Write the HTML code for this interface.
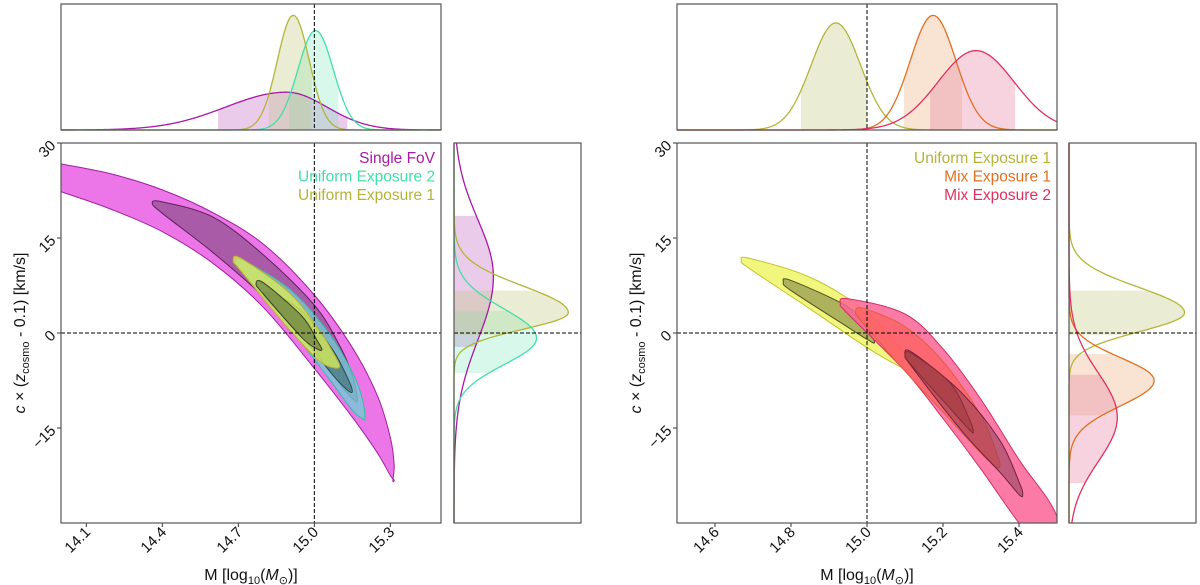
<!DOCTYPE html>
<html><head><meta charset="utf-8"><style>
html,body{margin:0;padding:0;background:#fff;}
svg{display:block;font-family:"Liberation Sans","DejaVu Sans",sans-serif;}
</style></head><body>
<svg id="fig" width="1200" height="585" viewBox="0 0 1200 585" xmlns="http://www.w3.org/2000/svg">
<defs>
<clipPath id="clipL"><rect x="61" y="143" width="380" height="380"/></clipPath>
<clipPath id="clipR"><rect x="677" y="143" width="380" height="380"/></clipPath>
</defs>
<g id="root"></g>
</svg>
<script>
// ---- data ----
const yTicks = [30, 15, 0, -15];
const leftXTicks = [14.1, 14.4, 14.7, 15.0, 15.3];
const rightXTicks = [14.6, 14.8, 15.0, 15.2, 15.4];
const leftLegend = ["Single FoV", "Uniform Exposure 2", "Uniform Exposure 1"];
const rightLegend = ["Uniform Exposure 1", "Mix Exposure 1", "Mix Exposure 2"];
// contour spines: [M, v, half-width in v]
const singleOuter = [[13.9,25.5,2],[14.0,24.5,2.2],[14.2,22.3,2.8],[14.4,19.3,3.3],[14.6,15,4],[14.8,9,5],[15.0,0.2,5.8],[15.15,-7.8,5.5],[15.25,-14.5,4.5],[15.3,-19.5,3],[15.315,-22,1.2],[15.31,-23.3,0]];
const singleInner = [[14.36,20.5,0],[14.4,19.8,0.9],[14.6,15.5,2.8],[14.8,9,3.3],[15.0,0.8,3.6],[15.1,-5,3],[15.15,-8.5,1.8],[15.17,-10.6,0]];
const ue2Outer = [[14.69,11,0],[14.72,10.4,1],[14.9,4,3],[15.05,-3.2,3.6],[15.15,-9.2,3],[15.19,-12,1.5],[15.2,-13.5,0]];
const ue2Inner = [[14.8,6,0],[14.83,5.4,0.9],[14.95,1.5,2],[15.07,-4.5,2],[15.13,-8,1],[15.15,-9.2,0]];
const ue1OuterL = [[14.68,11.3,0],[14.71,10.8,1],[14.9,3.5,2.9],[15.02,-2,2.4],[15.08,-4.5,1],[15.1,-5.2,0]];
const ue1InnerL = [[14.77,7.7,0],[14.8,7,0.9],[14.95,1,1.7],[15.01,-1.8,0.7],[15.03,-2.6,0]];
const ue1OuterR = [[14.67,11.4,0],[14.69,11,0.8],[14.85,6.3,2.5],[15.0,0.5,2.8],[15.1,-4.5,1.2],[15.13,-6,0]];
const ue1InnerR = [[14.78,8,0],[14.8,7.5,0.8],[14.95,2.5,1.6],[15.0,-0.2,0.8],[15.02,-1.5,0]];
const mix2Outer = [[14.93,4.6,0],[14.95,4.2,1.2],[15.1,-1.5,4.5],[15.2,-8,5.5],[15.3,-16,5.5],[15.4,-25,5],[15.5,-33,4]];
const mix1Outer = [[14.97,3.2,0],[14.99,2.7,1.2],[15.1,-2.5,3.5],[15.2,-8.5,4],[15.3,-16,3],[15.34,-20,1.2],[15.35,-20.8,0]];
const mix2Inner = [[15.1,-3.5,0],[15.12,-4.3,1.2],[15.25,-12.5,3],[15.35,-19.5,2.5],[15.4,-24.5,1],[15.41,-25.5,0]];
const mix1Inner = [[15.1,-3.5,0],[15.12,-4.3,1],[15.22,-10,2],[15.27,-14.5,0.8],[15.28,-15.6,0]];
// marginal distributions: [mu, sigmaLow, sigmaHigh, peak density]
const topLeftDists = [[14.89,0.24,0.16,0.30],[15.005,0.07,0.07,0.79],[14.917,0.063,0.063,0.91]];
const topLeftBands = [[14.62,15.13],[14.90,15.095],[14.82,14.99]];
const sideLeftDists = [[8.9,10,9,0.31],[-0.8,4.2,4.6,0.65],[3.2,2.6,4.2,0.90]];
const sideLeftBands = [[-2.2,18.5],[-6.3,3.5],[-0.3,6.7]];
const topRightDists = [[14.918,0.065,0.065,0.85],[15.174,0.06,0.06,0.91],[15.287,0.1,0.1,0.63]];
const topRightBands = [[14.826,15.0],[15.097,15.25],[15.166,15.39]];
const sideRightDists = [[3.2,3,4,0.91],[-7.5,4,3.6,0.67],[-13.3,7,7,0.38]];
const sideRightBands = [[-0.3,6.7],[-13,-3.3],[-23.7,-6.6]];

// ---- helpers ----
const NS = "http://www.w3.org/2000/svg";
const root = document.getElementById('root');
function mk(tag, attrs, parent){const e=document.createElementNS(NS,tag);for(const k in attrs)e.setAttribute(k,attrs[k]);(parent||root).appendChild(e);return e;}
const yScale = v => 333 - (v/15)*95;
function xScaleFor(x0, m0, m1){return m => x0 + (m-m0)/(m1-m0)*380;}
const xL = xScaleFor(61,14.0,15.5), xR = xScaleFor(677,14.5,15.5);
function smoothPath(pts){
  let d=`M${pts[0][0]},${pts[0][1]}`;const n=pts.length;
  for(let i=0;i<n;i++){const p0=pts[(i-1+n)%n],p1=pts[i],p2=pts[(i+1)%n],p3=pts[(i+2)%n];
    const c1=[p1[0]+(p2[0]-p0[0])/6,p1[1]+(p2[1]-p0[1])/6],c2=[p2[0]-(p3[0]-p1[0])/6,p2[1]-(p3[1]-p1[1])/6];
    d+=`C${c1[0]},${c1[1]} ${c2[0]},${c2[1]} ${p2[0]},${p2[1]}`;}
  return d+'Z';
}
function contour(g, spine, xs, fill, stroke, name){
  const up=spine.map(p=>[xs(p[0]),yScale(p[1]+p[2])]);
  const lo=spine.slice().reverse().filter(p=>p[2]>0).map(p=>[xs(p[0]),yScale(p[1]-p[2])]);
  const p=mk('path',{d:smoothPath(up.concat(lo)),fill:fill,stroke:stroke,'stroke-width':1},g);
  
  
}
function dens(d,x){const s=x<d[0]?d[1]:d[2];return d[3]*Math.exp(-0.5*((x-d[0])/s)**2);}
function axesBox(x,y,w,h,name){const r=mk('rect',{x:x,y:y,width:w,height:h,fill:'none',stroke:'#555','stroke-width':1.2});
  
  }
function topMarginal(x0,m0,m1,dists,bands,colors,fills,name){
  const g=mk('g',{});
  const xs=xScaleFor(x0,m0,m1), ys=d=>130-d*126;
  dists.forEach((d,i)=>{const b=bands[i];let pts=[];
    for(let k=0;k<=60;k++){const m=b[0]+(b[1]-b[0])*k/60;pts.push(`${xs(m)},${ys(dens(d,m))}`);}
    const f=mk('polygon',{points:`${xs(b[0])},130 `+pts.join(' ')+` ${xs(b[1])},130`,fill:fills[i]},g);
    
    });
  dists.forEach((d,i)=>{let pts=[];
    for(let k=0;k<=300;k++){const m=m0+(m1-m0)*k/300;pts.push(`${xs(m)},${ys(dens(d,m))}`);}
    const l=mk('polyline',{points:pts.join(' '),fill:'none',stroke:colors[i],'stroke-width':1.3},g);
    
    });
  mk('line',{x1:xs(15),x2:xs(15),y1:4,y2:130,stroke:'#000','stroke-dasharray':'4,2','stroke-width':1},g);
  axesBox(x0,4,380,126,'top-marginal-frame');
}
function sideMarginal(x0,dists,bands,colors,fills,name){
  const g=mk('g',{});
  const xs=d=>x0+d*127;
  dists.forEach((d,i)=>{const b=bands[i];let pts=[];
    for(let k=0;k<=60;k++){const v=b[0]+(b[1]-b[0])*k/60;pts.push(`${xs(dens(d,v))},${yScale(v)}`);}
    const f=mk('polygon',{points:`${x0},${yScale(b[0])} `+pts.join(' ')+` ${x0},${yScale(b[1])}`,fill:fills[i]},g);
    
    });
  dists.forEach((d,i)=>{let pts=[];
    for(let k=0;k<=300;k++){const v=-30+60*k/300;pts.push(`${xs(dens(d,v))},${yScale(v)}`);}
    const l=mk('polyline',{points:pts.join(' '),fill:'none',stroke:colors[i],'stroke-width':1.3},g);
    
    });
  mk('line',{x1:x0,x2:x0+127,y1:333,y2:333,stroke:'#000','stroke-dasharray':'4,2','stroke-width':1},g);
  axesBox(x0,143,127,380,'side-marginal-frame');
}
function mainAxes(x0,xs,ticks,clip,legend,legendColors,drawContours,name){
  const g=mk('g',{});
  const cg=mk('g',{'clip-path':`url(#${clip})`},g);
  drawContours(cg);
  mk('line',{x1:xs(15),x2:xs(15),y1:143,y2:523,stroke:'#000','stroke-dasharray':'4,2','stroke-width':1},g);
  mk('line',{x1:x0,x2:x0+380,y1:333,y2:333,stroke:'#000','stroke-dasharray':'4,2','stroke-width':1},g);
  axesBox(x0,143,380,380,'main-axes-frame');
  ticks.forEach(t=>{const x=xs(t);
    mk('line',{x1:x,x2:x,y1:523,y2:527,stroke:'#333'},g);
    const tx=mk('text',{x:x+5,y:533,'font-size':15,'text-anchor':'end',transform:`rotate(-45 ${x+5} 533)`,fill:'#111'},g);
    tx.textContent=t.toFixed(1);
    
    });
  yTicks.forEach(t=>{const y=yScale(t);
    mk('line',{x1:x0-4,x2:x0,y1:y,y2:y,stroke:'#333'},g);
    const tx=mk('text',{x:x0-8,y:y+5,'font-size':15,'text-anchor':'end',transform:`rotate(-45 ${x0-8} ${y})`,fill:'#111'},g);
    tx.textContent=t<0?'\u2212'+Math.abs(t):String(t);
    
    });
  legend.forEach((s,i)=>{const tx=mk('text',{x:x0+374,y:163+i*18.5,'font-size':15.5,'text-anchor':'end',fill:legendColors[i]},g);
    tx.textContent=s;
    
    });
  const xl=mk('text',{x:x0+190,y:580,'font-size':16,'text-anchor':'middle',fill:'#111'},g);
  xl.innerHTML='M [log<tspan font-size="11" dy="4">10</tspan><tspan dy="-4">(</tspan><tspan font-style="italic">M</tspan><tspan font-size="11" dy="4">\u2299</tspan><tspan dy="-4">)]</tspan>';
  
  
  const yl=mk('text',{x:0,y:0,'font-size':16,'text-anchor':'middle',fill:'#111',transform:`translate(${x0-36},333) rotate(-90)`},g);
  yl.innerHTML='<tspan font-style="italic">c</tspan> \u00d7 (<tspan font-style="italic">z</tspan><tspan font-size="11" dy="4">cosmo</tspan><tspan dy="-4"> - 0.1) [km/s]</tspan>';
  
  
}
// ---- left figure ----
topMarginal(61,14.0,15.5,topLeftDists,topLeftBands,['#a818a8','#40e0a8','#b4b438'],['rgba(200,120,200,0.38)','rgba(110,230,180,0.27)','rgba(190,200,120,0.32)'],'top-marginal-left');
mainAxes(61,xL,leftXTicks,'clipL',leftLegend,['#a818a8','#40e0a8','#b4b438'],cg=>{
  contour(cg,singleOuter,xL,'#ec76e8','#a020a0','single-fov-2sigma');
  contour(cg,singleInner,xL,'rgba(90,60,90,0.45)','#602060','single-fov-1sigma');
  contour(cg,ue2Outer,xL,'rgba(110,210,215,0.75)','#30c0a0','uniform-exp2-2sigma');
  contour(cg,ue2Inner,xL,'rgba(40,80,80,0.45)','#205050','uniform-exp2-1sigma');
  contour(cg,ue1OuterL,xL,'rgba(215,235,90,0.8)','#c0b030','uniform-exp1-2sigma');
  contour(cg,ue1InnerL,xL,'rgba(70,90,50,0.5)','#404020','uniform-exp1-1sigma');
},'main-axes-left');
sideMarginal(454,sideLeftDists,sideLeftBands,['#a818a8','#40e0a8','#b4b438'],['rgba(200,120,200,0.38)','rgba(110,230,180,0.27)','rgba(190,200,120,0.32)'],'side-marginal-left');
// ---- right figure ----
topMarginal(677,14.5,15.5,topRightDists,topRightBands,['#b4b438','#e07020','#e03060'],['rgba(190,200,120,0.32)','rgba(235,170,120,0.32)','rgba(230,130,160,0.35)'],'top-marginal-right');
mainAxes(677,xR,rightXTicks,'clipR',rightLegend,['#b4b438','#e07020','#e03060'],cg=>{
  contour(cg,ue1OuterR,xR,'rgba(240,245,110,0.9)','#c8c030','uniform-exp1-2sigma');
  contour(cg,ue1InnerR,xR,'rgba(110,110,60,0.5)','#505020','uniform-exp1-1sigma');
  contour(cg,mix2Outer,xR,'rgba(250,100,150,0.85)','#d03060','mix-exp2-2sigma');
  contour(cg,mix1Outer,xR,'rgba(255,90,80,0.6)','#e06040','mix-exp1-2sigma');
  contour(cg,mix2Inner,xR,'rgba(120,50,70,0.45)','#702040','mix-exp2-1sigma');
  contour(cg,mix1Inner,xR,'rgba(150,50,50,0.45)','#803030','mix-exp1-1sigma');
},'main-axes-right');
sideMarginal(1069,sideRightDists,sideRightBands,['#b4b438','#e07020','#e03060'],['rgba(190,200,120,0.32)','rgba(235,170,120,0.32)','rgba(230,130,160,0.35)'],'side-marginal-right');
</script>
</body></html>
